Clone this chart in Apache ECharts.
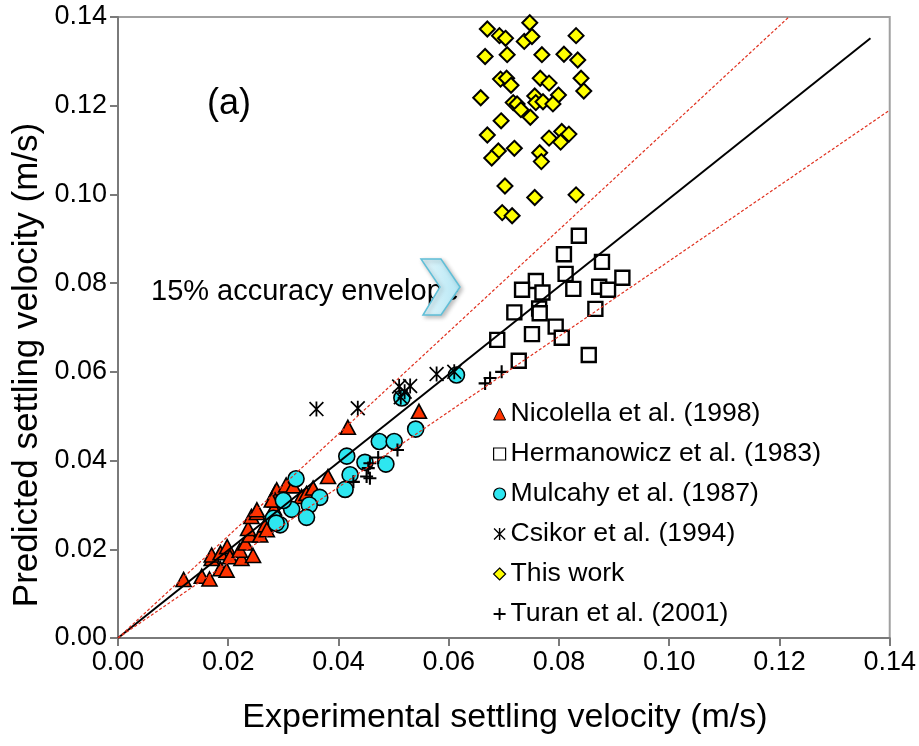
<!DOCTYPE html>
<html>
<head>
<meta charset="utf-8">
<script src="https://cdn.jsdelivr.net/npm/echarts@6/dist/echarts.min.js"></script>
<style>
  html, body { margin: 0; padding: 0; background: #ffffff; }
  #chart { width: 919px; height: 746px; }
</style>
</head>
<body>
<div id="chart"></div>
<script>
// Settling velocity: predicted vs experimental (m/s)
const FONT = '"Liberation Sans", Arial, Helvetica, sans-serif';

// Shared axis ticks (both axes)
const tickValues = [0.00, 0.02, 0.04, 0.06, 0.08, 0.10, 0.12, 0.14];

// [experimental, predicted] pairs for each data set
const nicolella = [
  [0.0119, 0.0132], [0.0152, 0.0139], [0.0166, 0.0133], [0.0186, 0.0156], [0.0197, 0.0153],
  [0.0170, 0.0179], [0.0170, 0.0187], [0.0186, 0.0192], [0.0198, 0.0206], [0.0203, 0.0183],
  [0.0224, 0.0179], [0.0245, 0.0186], [0.0221, 0.0198], [0.0231, 0.0214], [0.0239, 0.0232],
  [0.0258, 0.0232], [0.0236, 0.0247], [0.0242, 0.0274], [0.0252, 0.0283], [0.0252, 0.0289],
  [0.0267, 0.0255], [0.0270, 0.0244], [0.0283, 0.0293], [0.0285, 0.0328], [0.0288, 0.0334],
  [0.0305, 0.0345], [0.0285, 0.0311], [0.0279, 0.0311], [0.0318, 0.0343], [0.0333, 0.0319],
  [0.0342, 0.0326], [0.0354, 0.0338], [0.0381, 0.0364], [0.0417, 0.0475], [0.0546, 0.0511]
];

const hermanowicz = [
  [0.0836, 0.0907], [0.0809, 0.0865], [0.0878, 0.0848], [0.0812, 0.0821], [0.0758, 0.0805],
  [0.0733, 0.0785], [0.0770, 0.0779], [0.0826, 0.0787], [0.0873, 0.0792], [0.0889, 0.0785],
  [0.0915, 0.0812], [0.0719, 0.0734], [0.0764, 0.0743], [0.0765, 0.0732], [0.0866, 0.0742],
  [0.0794, 0.0702], [0.0751, 0.0685], [0.0805, 0.0677], [0.0688, 0.0672], [0.0727, 0.0625],
  [0.0854, 0.0638]
];

const mulcahy = [
  [0.0540, 0.0471], [0.0474, 0.0443], [0.0501, 0.0443], [0.0415, 0.0410], [0.0448, 0.0396],
  [0.0486, 0.0392], [0.0421, 0.0368], [0.0412, 0.0335], [0.0323, 0.0359], [0.0366, 0.0317],
  [0.0347, 0.0300], [0.0315, 0.0290], [0.0342, 0.0272], [0.0300, 0.0310], [0.0294, 0.0255],
  [0.0282, 0.0270], [0.0614, 0.0593], [0.0515, 0.0541], [0.0287, 0.0259]
];

const csikor = [
  [0.0360, 0.0516], [0.0435, 0.0518], [0.0510, 0.0567], [0.0530, 0.0568],
  [0.0578, 0.0595], [0.0610, 0.0600], [0.0513, 0.0543], [0.0520, 0.0555]
];

const thisWork = [
  [0.0670, 0.1373], [0.0747, 0.1387], [0.0692, 0.1358], [0.0703, 0.1352], [0.0737, 0.1345],
  [0.0751, 0.1356], [0.0831, 0.1358], [0.0666, 0.1311], [0.0706, 0.1315], [0.0769, 0.1315],
  [0.0809, 0.1316], [0.0834, 0.1303], [0.0694, 0.1260], [0.0705, 0.1262], [0.0713, 0.1246],
  [0.0766, 0.1262], [0.0782, 0.1251], [0.0840, 0.1262], [0.0845, 0.1233], [0.0658, 0.1218],
  [0.0717, 0.1207], [0.0724, 0.1204], [0.0731, 0.1191], [0.0756, 0.1222], [0.0758, 0.1207],
  [0.0771, 0.1209], [0.0799, 0.1224], [0.0789, 0.1204], [0.0748, 0.1174], [0.0695, 0.1166],
  [0.0670, 0.1134], [0.0782, 0.1127], [0.0805, 0.1142], [0.0818, 0.1136], [0.0803, 0.1118],
  [0.0690, 0.1098], [0.0678, 0.1082], [0.0719, 0.1104], [0.0765, 0.1094], [0.0768, 0.1074],
  [0.0702, 0.1019], [0.0756, 0.0993], [0.0831, 0.0999], [0.0697, 0.0959], [0.0715, 0.0952]
];

const turan = [
  [0.0696, 0.0600], [0.0675, 0.0586], [0.0666, 0.0574], [0.0507, 0.0424], [0.0472, 0.0407],
  [0.0457, 0.0394], [0.0454, 0.0383], [0.0451, 0.0364], [0.0427, 0.0352], [0.0457, 0.0360]
];

// Reference lines: fitted line and the +/-15% envelope
const fitLine = [[0, 0], [0.1365, 0.1352]];
const upperEnvelope = [[0, 0], [0.1217, 0.14]];
const lowerEnvelope = [[0, 0], [0.14, 0.119]];

const seriesNames = [
  'Nicolella et al. (1998)',
  'Hermanowicz et al. (1983)',
  'Mulcahy et al. (1987)',
  'Csikor et al. (1994)',
  'This work',
  'Turan et al. (2001)'
];

// Marker outlines built from filled bars
const ASTERISK = 'path://M44,0L56,0L56,100L44,100Z M8,0L100,92L92,100L0,8Z M92,0L100,8L8,100L0,92Z';
const PLUS = 'path://M42,0L58,0L58,42L100,42L100,58L58,58L58,100L42,100L42,58L0,58L0,42L42,42Z';

const chart = echarts.init(document.getElementById('chart'), null, { renderer: 'canvas' });

const axisCommon = {
  type: 'value',
  min: tickValues[0],
  max: tickValues[tickValues.length - 1],
  interval: tickValues[1] - tickValues[0],
  axisLine: { show: true, onZero: false, lineStyle: { color: '#7a7a7a', width: 2 } },
  axisTick: { show: true, inside: false, length: 8, lineStyle: { color: '#7a7a7a', width: 2 } },
  splitLine: { show: false },
  axisLabel: {
    color: '#000000',
    fontFamily: FONT,
    fontSize: 27,
    formatter: v => v.toFixed(2)
  }
};

function lineSeries(data, color, width, type) {
  return {
    type: 'line',
    data: data,
    showSymbol: false,
    silent: true,
    z: 5,
    lineStyle: { color: color, width: width, type: type },
    animation: false
  };
}

chart.setOption({
  animation: false,
  backgroundColor: '#ffffff',
  grid: {
    left: 118, top: 17, right: 29, bottom: 108,
    show: true,
    borderColor: '#a0a0a0',
    borderWidth: 2,
    backgroundColor: 'transparent'
  },
  xAxis: Object.assign({}, axisCommon, {
    axisLabel: Object.assign({}, axisCommon.axisLabel, { margin: 11 })
  }),
  yAxis: Object.assign({}, axisCommon, {
    axisLabel: Object.assign({}, axisCommon.axisLabel, { margin: 11 })
  }),
  legend: {
    orient: 'vertical',
    left: 488,
    top: 395,
    itemWidth: 12,
    itemHeight: 12,
    itemGap: 12,
    selectedMode: false,
    textStyle: { fontFamily: FONT, fontSize: 26.6, color: '#000000', lineHeight: 28, padding: [0, 0, 0, 0] },
    data: [
      { name: seriesNames[0], icon: 'triangle', itemStyle: { borderWidth: 1 } },
      { name: seriesNames[1], icon: 'rect', itemStyle: { borderWidth: 1.2 } },
      { name: seriesNames[2], icon: 'circle', itemStyle: { borderWidth: 1.2 } },
      { name: seriesNames[3], icon: ASTERISK },
      { name: seriesNames[4], icon: 'diamond', itemStyle: { borderWidth: 1.2 } },
      { name: seriesNames[5], icon: PLUS }
    ]
  },
  graphic: [
    {
      type: 'text', x: 207, y: 104, z: 10,
      style: {
        text: '(a)', fontFamily: FONT, fontSize: 36, fill: '#000000',
        align: 'left', verticalAlign: 'middle', textAlign: 'left', textVerticalAlign: 'middle'
      }
    },
    {
      type: 'text', x: 151, y: 292, z: 10,
      style: {
        text: '15% accuracy envelope', fontFamily: FONT, fontSize: 29, fill: '#000000',
        align: 'left', verticalAlign: 'middle', textAlign: 'left', textVerticalAlign: 'middle'
      }
    },
    {
      type: 'polygon', z: 11,
      shape: { points: [[421, 259], [441, 259], [460, 287], [441, 315], [423, 315], [440, 287]] },
      style: {
        fill: {
          type: 'linear', x: 0, y: 0, x2: 1, y2: 0,
          colorStops: [{ offset: 0, color: '#e4f7fc' }, { offset: 1, color: '#b4e6f4' }]
        },
        stroke: '#5fbfd8',
        lineWidth: 1.5,
        shadowBlur: 4,
        shadowOffsetX: 2,
        shadowOffsetY: 2,
        shadowColor: 'rgba(0,0,0,0.25)'
      }
    },
    {
      type: 'text', x: 27, y: 365, rotation: Math.PI / 2, z: 10,
      style: {
        text: 'Predicted settling velocity (m/s)', fontFamily: FONT, fontSize: 35, fill: '#000000',
        align: 'center', verticalAlign: 'middle', textAlign: 'center', textVerticalAlign: 'middle'
      }
    },
    {
      type: 'text', x: 505, y: 718, z: 10,
      style: {
        text: 'Experimental settling velocity (m/s)', fontFamily: FONT, fontSize: 34, fill: '#000000',
        align: 'center', verticalAlign: 'middle', textAlign: 'center', textVerticalAlign: 'middle'
      }
    }
  ],
  series: [
    {
      name: seriesNames[0], type: 'scatter', data: nicolella,
      symbol: 'triangle', symbolSize: [15, 14],
      itemStyle: { color: '#ff3300', borderColor: '#000000', borderWidth: 1.6, opacity: 1 }
    },
    {
      name: seriesNames[1], type: 'scatter', data: hermanowicz,
      symbol: 'rect', symbolSize: 14,
      itemStyle: { color: '#ffffff', borderColor: '#000000', borderWidth: 2.4, opacity: 1 }
    },
    {
      name: seriesNames[2], type: 'scatter', data: mulcahy,
      symbol: 'circle', symbolSize: 16,
      itemStyle: { color: '#2ee6f0', borderColor: '#000000', borderWidth: 1.6, opacity: 1 }
    },
    {
      name: seriesNames[3], type: 'scatter', data: csikor,
      symbol: ASTERISK, symbolSize: 15,
      itemStyle: { color: '#000000', borderWidth: 0, opacity: 1 }
    },
    {
      name: seriesNames[4], type: 'scatter', data: thisWork,
      symbol: 'diamond', symbolSize: 15,
      itemStyle: { color: '#ffff00', borderColor: '#000000', borderWidth: 2, opacity: 1 }
    },
    {
      name: seriesNames[5], type: 'scatter', data: turan,
      symbol: PLUS, symbolSize: 13,
      itemStyle: { color: '#000000', borderWidth: 0, opacity: 1 }
    },
    lineSeries(fitLine, '#000000', 2, 'solid'),
    lineSeries(upperEnvelope, '#e0301e', 1.2, [3, 2]),
    lineSeries(lowerEnvelope, '#e0301e', 1.2, [3, 2])
  ]
});
</script>
</body>
</html>
